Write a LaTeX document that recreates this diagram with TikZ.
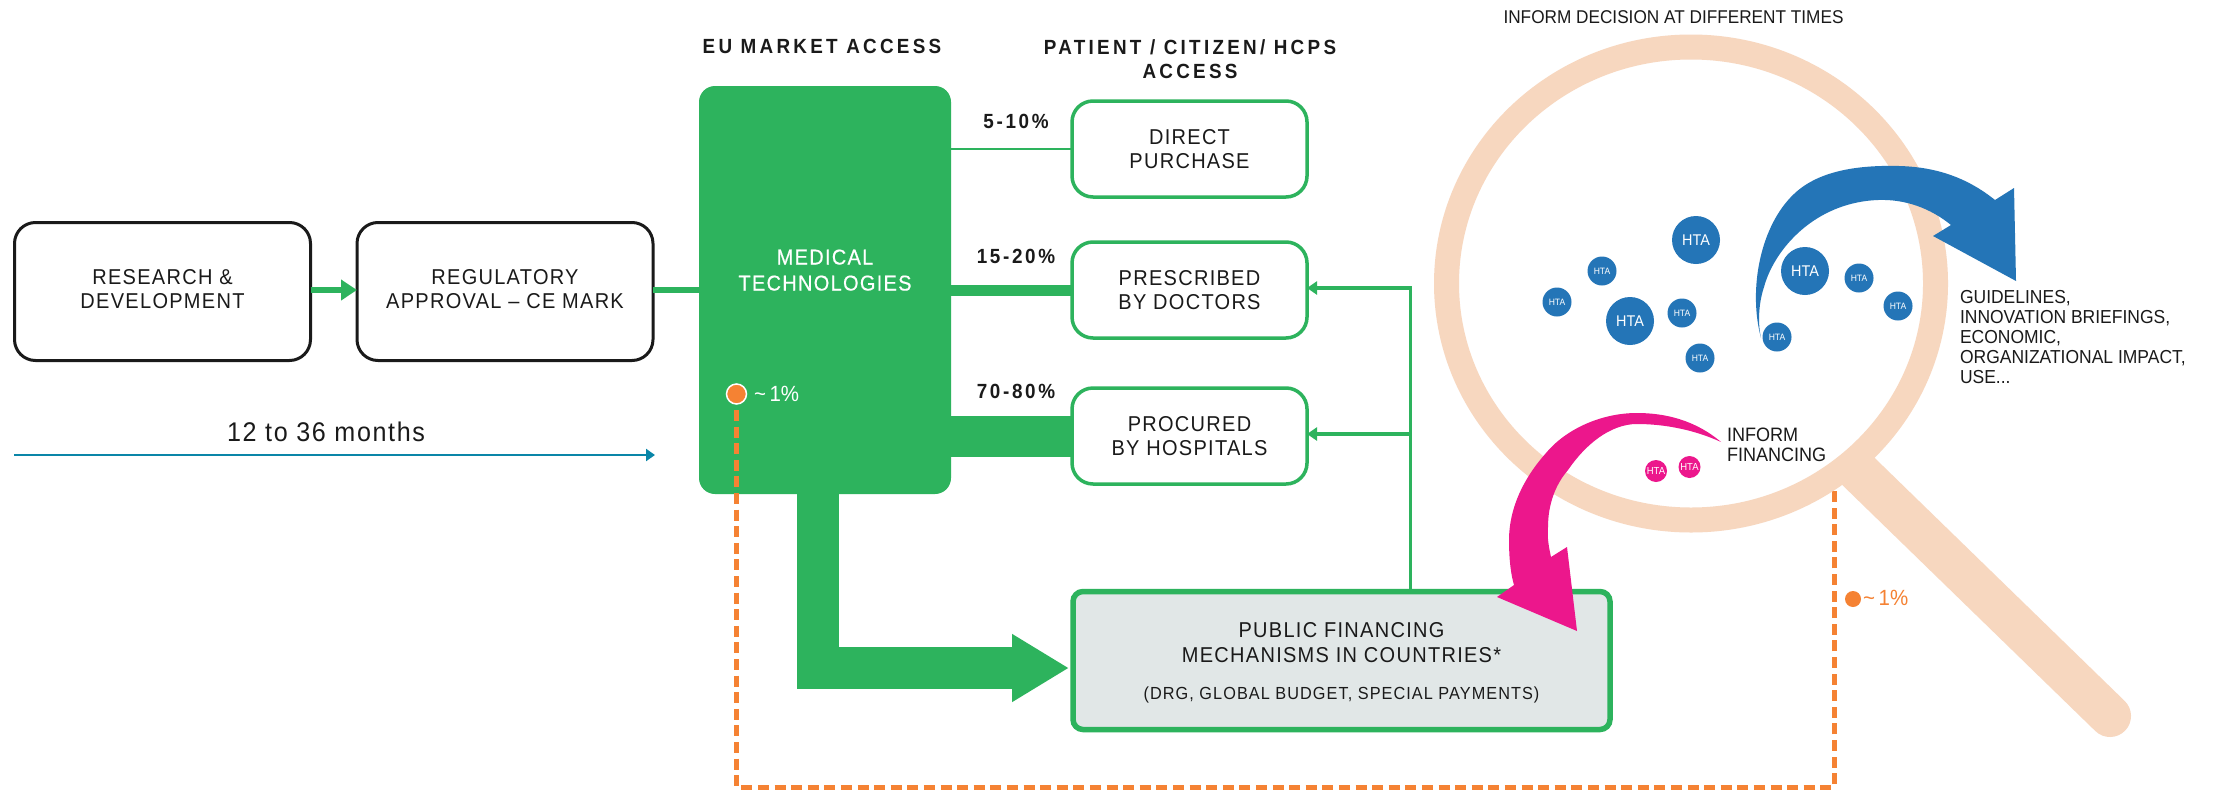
\documentclass[tikz,border=0pt]{standalone}
\usepackage{fontspec}
\setmainfont[FakeStretch=0.93]{Liberation Sans}
\newfontfamily\sptext[LetterSpace=6,FakeStretch=0.93]{Liberation Sans}
\newfontfamily\spmed[LetterSpace=6,FakeStretch=0.93,FakeBold=0.5]{Liberation Sans}
\newfontfamily\sphead[LetterSpace=16,FakeStretch=0.92]{Liberation Sans}
\newfontfamily\sppct[LetterSpace=13,FakeStretch=0.92]{Liberation Sans}
\usetikzlibrary{arrows.meta,shapes.geometric}
\newcommand\setfs[2]{\fontsize{#1}{#2}\selectfont}
\definecolor{gr}{HTML}{2DB35D}
\definecolor{peach}{HTML}{F7D7BF}
\definecolor{bl}{HTML}{2475B7}
\definecolor{pk}{HTML}{EC178C}
\definecolor{org}{HTML}{F58233}
\definecolor{ink}{HTML}{1A1A1A}
\definecolor{teal}{HTML}{0A86A8}
\definecolor{pubfill}{HTML}{E1E7E7}
\tikzset{
  every node/.style={inner sep=0pt,outer sep=0pt,text=ink},
  blackbox/.style={draw=ink,line width=3,rounded corners=21,minimum width=296,minimum height=138,align=center,font=\sptext\setfs{21.5}{24.5}},
  greenbox/.style={draw=gr,line width=3.5,fill=white,rounded corners=21,minimum width=235,minimum height=96,align=center,font=\sptext\setfs{21.5}{24.5}},
  headtxt/.style={align=center,font=\sphead\bfseries\setfs{20.5}{24.5}},
  pcttxt/.style={font=\sppct\bfseries\setfs{20.5}{24}},
  plaintxt/.style={align=left,font=\setfs{18.8}{20}},
  link/.style={draw=gr,line width=5.5},
  thinlink/.style={draw=gr,line width=3.5,-{Triangle[length=10pt,width=13pt]}},
  htabig/.style={circle,fill=bl,minimum size=48,text=white,font=\setfs{15.5}{16}},
  htasmall/.style={circle,fill=bl,minimum size=29,text=white,font=\setfs{9.2}{10}},
  htapink/.style={circle,fill=pk,minimum size=22,text=white,font=\setfs{10.2}{11}},
  orangedash/.style={draw=org,line width=5,dash pattern=on 11pt off 5.6pt},
}
\begin{document}
\begin{tikzpicture}[x=1pt,y=-1pt]
\path[use as bounding box,fill=white] (0,0) rectangle (2215,790);

% left boxes
\node[blackbox] (rd) at (162.5,291.5) {RESEARCH \&\\DEVELOPMENT\\[-19.5pt]\mbox{}};
\node[blackbox] (reg) at (505,291.5) {REGULATORY\\APPROVAL – CE MARK\\[-19.5pt]\mbox{}};

% main block
\node[fill=gr,rounded corners=16,minimum width=252,minimum height=408,align=center,text=white,font=\spmed\setfs{21.5}{26}] (med) at (825,290)
  {MEDICAL\\TECHNOLOGIES\\[14pt]\mbox{}};

% access boxes
\node[greenbox] (direct) at (1189.5,149) {DIRECT\\PURCHASE};
\node[greenbox] (presc) at (1189.5,290) {PRESCRIBED\\BY DOCTORS};
\node[greenbox] (proc) at (1189.5,436) {PROCURED\\BY HOSPITALS};

% public financing
\node[draw=gr,fill=pubfill,line width=5.5,rounded corners=10,minimum width=537,minimum height=138,align=center,font=\sptext\setfs{21.5}{24.5}] (pub) at (1341.5,660.5)
  {\mbox{}\\[-4.5pt]PUBLIC FINANCING\\MECHANISMS IN COUNTRIES*\\[13pt]{\sptext\setfs{17.5}{18}(DRG, GLOBAL BUDGET, SPECIAL PAYMENTS)}};

% connectors
\draw[link,-{Triangle[length=16pt,width=20pt]}] (rd.east |- 0,290) -- (reg.west |- 0,290);
\draw[link] (reg.east |- 0,290) -- (med.west |- 0,290);
\draw[draw=gr,line width=2.5] (med.east |- direct) -- (direct.west);
\draw[draw=gr,line width=11] (med.east |- presc) -- (presc.west);
\draw[draw=gr,line width=41] (med.east |- proc) -- (proc.west);

\coordinate (downx) at (817.5,494);
\coordinate (tip) at (1069,668);
\draw[draw=gr,line width=42,-{Triangle[length=57pt,width=64pt]}] (downx) |- (tip);

\coordinate (j1) at (1410.6,288);
\coordinate (j2) at (1410.6,434);
\draw[thinlink] (pub.north -| j1) -- (j1) -- (presc.east |- j1);
\draw[thinlink] (j2) -- (proc.east |- j2);

% timeline
\coordinate (t0) at (14,455);
\coordinate (t1) at (655,455);
\draw[draw=teal,line width=2.2,-{Triangle[length=9pt,width=12pt]}] (t0) -- (t1);
\node[font=\sptext\setfs{27}{30}] (months) at (326,432) {12 to 36 months};

% headers
\node[headtxt] (h1) at (822,46.5) {EU MARKET ACCESS};
\node[headtxt] (h2) at (1190,59) {PATIENT / CITIZEN/ HCPS\\ACCESS};
\node[pcttxt] (p1) at (1016,121) {5-10\%};
\node[pcttxt] (p2) at (1016,256) {15-20\%};
\node[pcttxt] (p3) at (1016,391) {70-80\%};

% orange path
\node[circle,fill=org,draw=white,line width=1.5,minimum size=20] (odot) at (736.5,394) {};
\node[anchor=west,text=white,font=\setfs{22}{24}] (olab) at (754,394) {\textasciitilde\,1\%};
\coordinate (c1) at (736.5,787);
\coordinate (c2) at (1834,787);
\coordinate (c3) at (1834,487);
\draw[orangedash] (736.5,410) -- (c1) -- (c2) -- (c3);
\node[circle,fill=org,minimum size=16] (odot2) at (1853,599) {};
\node[anchor=west,text=org,font=\setfs{22}{24}] (olab2) at (1863,598) {\textasciitilde\,1\%};

% magnifier
\coordinate (h0) at (1858,471);
\coordinate (h9) at (2110,716);
\draw[draw=peach,line width=42,line cap=round] (h0) -- (h9);
\node[ellipse,draw=peach,line width=25,minimum width=489,minimum height=473] (lens) at (1691,283.5) {};

\node[font=\setfs{18.5}{20}] (t1lab) at (1673.5,17) {INFORM DECISION AT DIFFERENT TIMES};

% HTA bubbles
\node[htabig] (a1) at (1696,240) {HTA};
\node[htabig] (a2) at (1630,321) {HTA};
\node[htabig] (a3) at (1805,271) {HTA};
\node[htasmall] (b1) at (1602,271) {HTA};
\node[htasmall] (b2) at (1557,302) {HTA};
\node[htasmall] (b3) at (1682,313) {HTA};
\node[htasmall] (b4) at (1700,358) {HTA};
\node[htasmall] (b5) at (1859,278) {HTA};
\node[htasmall] (b6) at (1898,306) {HTA};
\node[htasmall] (b7) at (1777,337) {HTA};
\node[htapink] (c1n) at (1656,471) {HTA};
\node[htapink] (c2n) at (1689.5,467) {HTA};

% blue curved arrow
\fill[bl] (1761,338) .. controls (1748,290) and (1760,225) .. (1795,193)
  .. controls (1820,170) and (1860,165) .. (1899,166)
  .. controls (1940,167) and (1970,180) .. (1995,200)
  -- (2014,188) -- (2016,281) -- (1933,236) -- (1951,225)
  .. controls (1930,208) and (1905,199) .. (1878,200)
  .. controls (1850,201) and (1825,211) .. (1805,227)
  .. controls (1785,243) and (1770,265) .. (1764,287)
  .. controls (1758,305) and (1758,325) .. (1761,338) -- cycle;

% pink curved arrow
\fill[pk] (1721,442) .. controls (1695,420) and (1665,413) .. (1637,413)
  .. controls (1600,413) and (1565,430) .. (1546,453)
  .. controls (1522,480) and (1509,510) .. (1509,540)
  .. controls (1509,560) and (1511,575) .. (1514,585)
  -- (1497,597) -- (1577,631) -- (1567,547) -- (1551,557)
  .. controls (1549,548) and (1547,538) .. (1548,527)
  .. controls (1548,505) and (1555,485) .. (1568,470)
  .. controls (1585,445) and (1610,424) .. (1637,424)
  .. controls (1665,424) and (1695,430) .. (1721,442) -- cycle;

\node[plaintxt,anchor=west] (guide) at (1960,337) {GUIDELINES,\\INNOVATION BRIEFINGS,\\ECONOMIC,\\ORGANIZATIONAL IMPACT,\\USE...};
\node[plaintxt,anchor=west,font=\setfs{19.4}{20}] (fin) at (1727,445) {INFORM\\FINANCING};
\end{tikzpicture}
\end{document}
